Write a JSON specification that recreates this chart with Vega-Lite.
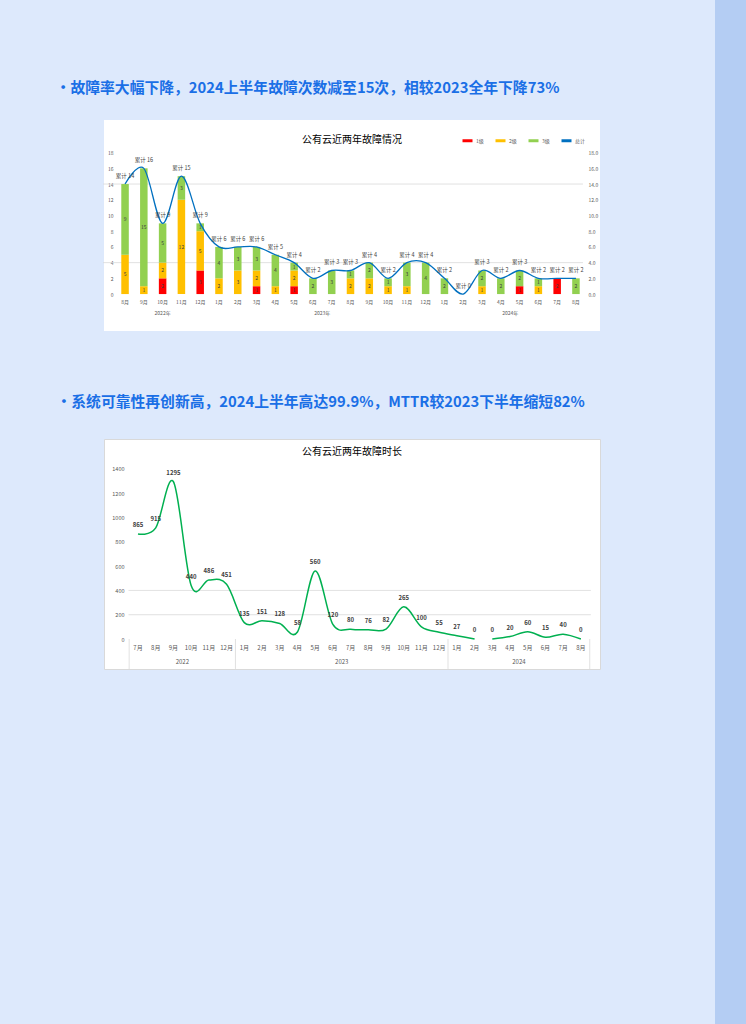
{
"$schema": "https://vega.github.io/schema/vega-lite/v6.json",
"background": "#dde9fc",
"padding": {"left": 55, "top": 0, "right": 0, "bottom": 0},
"config": {
  "font": "Noto Sans CJK SC",
  "view": {"stroke": null},
  "axis": {"domain": false, "ticks": false, "grid": false, "title": null, "labelColor": "#595959", "labelFont": "Noto Sans CJK SC"},
  "text": {"font": "Noto Sans CJK SC"},
  "legend": {"labelFont": "Noto Sans CJK SC"}
},
"datasets": {
  "faults": [
    {"m":"2022|8月","level":"2级","v":5},{"m":"2022|8月","level":"3级","v":9},
    {"m":"2022|9月","level":"2级","v":1},{"m":"2022|9月","level":"3级","v":15},
    {"m":"2022|10月","level":"1级","v":2},{"m":"2022|10月","level":"2级","v":2},{"m":"2022|10月","level":"3级","v":5},
    {"m":"2022|11月","level":"2级","v":12},{"m":"2022|11月","level":"3级","v":3},
    {"m":"2022|12月","level":"1级","v":3},{"m":"2022|12月","level":"2级","v":5},{"m":"2022|12月","level":"3级","v":1},
    {"m":"2023|1月","level":"2级","v":2},{"m":"2023|1月","level":"3级","v":4},
    {"m":"2023|2月","level":"2级","v":3},{"m":"2023|2月","level":"3级","v":3},
    {"m":"2023|3月","level":"1级","v":1},{"m":"2023|3月","level":"2级","v":2},{"m":"2023|3月","level":"3级","v":3},
    {"m":"2023|4月","level":"2级","v":1},{"m":"2023|4月","level":"3级","v":4},
    {"m":"2023|5月","level":"1级","v":1},{"m":"2023|5月","level":"2级","v":2},{"m":"2023|5月","level":"3级","v":1},
    {"m":"2023|6月","level":"3级","v":2},
    {"m":"2023|7月","level":"3级","v":3},
    {"m":"2023|8月","level":"2级","v":2},{"m":"2023|8月","level":"3级","v":1},
    {"m":"2023|9月","level":"2级","v":2},{"m":"2023|9月","level":"3级","v":2},
    {"m":"2023|10月","level":"2级","v":1},{"m":"2023|10月","level":"3级","v":1},
    {"m":"2023|11月","level":"2级","v":1},{"m":"2023|11月","level":"3级","v":3},
    {"m":"2023|12月","level":"3级","v":4},
    {"m":"2024|1月","level":"3级","v":2},
    {"m":"2024|3月","level":"2级","v":1},{"m":"2024|3月","level":"3级","v":2},
    {"m":"2024|4月","level":"3级","v":2},
    {"m":"2024|5月","level":"1级","v":1},{"m":"2024|5月","level":"3级","v":2},
    {"m":"2024|6月","level":"2级","v":1},{"m":"2024|6月","level":"3级","v":1},
    {"m":"2024|7月","level":"1级","v":2},
    {"m":"2024|8月","level":"3级","v":2}
  ],
  "totals": [
    {"m":"2022|8月","total":14,"label":"累计 14"},
    {"m":"2022|9月","total":16,"label":"累计 16"},
    {"m":"2022|10月","total":9,"label":"累计 9"},
    {"m":"2022|11月","total":15,"label":"累计 15"},
    {"m":"2022|12月","total":9,"label":"累计 9"},
    {"m":"2023|1月","total":6,"label":"累计 6"},
    {"m":"2023|2月","total":6,"label":"累计 6"},
    {"m":"2023|3月","total":6,"label":"累计 6"},
    {"m":"2023|4月","total":5,"label":"累计 5"},
    {"m":"2023|5月","total":4,"label":"累计 4"},
    {"m":"2023|6月","total":2,"label":"累计 2"},
    {"m":"2023|7月","total":3,"label":"累计 3"},
    {"m":"2023|8月","total":3,"label":"累计 3"},
    {"m":"2023|9月","total":4,"label":"累计 4"},
    {"m":"2023|10月","total":2,"label":"累计 2"},
    {"m":"2023|11月","total":4,"label":"累计 4"},
    {"m":"2023|12月","total":4,"label":"累计 4"},
    {"m":"2024|1月","total":2,"label":"累计 2"},
    {"m":"2024|2月","total":0,"label":"累计 0"},
    {"m":"2024|3月","total":3,"label":"累计 3"},
    {"m":"2024|4月","total":2,"label":"累计 2"},
    {"m":"2024|5月","total":3,"label":"累计 3"},
    {"m":"2024|6月","total":2,"label":"累计 2"},
    {"m":"2024|7月","total":2,"label":"累计 2"},
    {"m":"2024|8月","total":2,"label":"累计 2"}
  ],
  "years1a": [{"m":"2022|10月","t":"2022年"}],
  "years1b": [{"m":"2023|6月","t":"2023年"},{"m":"2024|4月","t":"2024年"}],
  "dur": [
    {"m":"2022|7月","v":865,"seg":"a"},{"m":"2022|8月","v":915,"seg":"a"},{"m":"2022|9月","v":1295,"seg":"a"},
    {"m":"2022|10月","v":440,"seg":"a"},{"m":"2022|11月","v":486,"seg":"a"},{"m":"2022|12月","v":451,"seg":"a"},
    {"m":"2023|1月","v":135,"seg":"a"},{"m":"2023|2月","v":151,"seg":"a"},{"m":"2023|3月","v":128,"seg":"a"},
    {"m":"2023|4月","v":58,"seg":"a"},{"m":"2023|5月","v":560,"seg":"a"},{"m":"2023|6月","v":120,"seg":"a"},
    {"m":"2023|7月","v":80,"seg":"a"},{"m":"2023|8月","v":76,"seg":"a"},{"m":"2023|9月","v":82,"seg":"a"},
    {"m":"2023|10月","v":265,"seg":"a"},{"m":"2023|11月","v":100,"seg":"a"},{"m":"2023|12月","v":55,"seg":"a"},
    {"m":"2024|1月","v":27,"seg":"a"},{"m":"2024|2月","v":0,"seg":"a"},{"m":"2024|3月","v":0,"seg":"b"},
    {"m":"2024|4月","v":20,"seg":"b"},{"m":"2024|5月","v":60,"seg":"b"},{"m":"2024|6月","v":15,"seg":"b"},
    {"m":"2024|7月","v":40,"seg":"b"},{"m":"2024|8月","v":0,"seg":"b"}
  ],
  "sepsR": [{"m":"2022|12月"},{"m":"2023|12月"},{"m":"2024|8月"}],
  "years2": [{"m":"2022|9月","t":"2022"},{"m":"2023|6月","t":"2023"},{"m":"2024|4月","t":"2024"}]
},
"spacing": 114,
"resolve": {"legend": {"color": "independent"}, "scale": {"color": "independent"}},
"hconcat": [
 {
  "spacing": 63,
  "resolve": {"legend": {"color": "independent"}, "scale": {"color": "independent"}},
  "vconcat": [
   {"width": 496, "height": 18, "data": {"values": []}, "mark": "point", "view": {"stroke": null}},
   {
    "title": {"text": "•故障率大幅下降，2024上半年故障次数减至15次，相较2023全年下降73%", "anchor": "start", "dx": -47, "offset": 24, "fontSize": 14.8, "fontWeight": "bold", "color": "#1a6fe6", "font": "Noto Sans CJK SC"},
    "resolve": {"legend": {"color": "independent"}, "scale": {"color": "independent"}},
    "vconcat": [
     {
      "width": 496, "height": 211,
      "view": {"fill": "#ffffff", "stroke": null},
      "title": {"text": "公有云近两年故障情况", "anchor": "middle", "frame": "group", "offset": -25, "fontSize": 10, "fontWeight": "normal", "color": "#000000", "font": "Noto Sans CJK SC"},
      "encoding": {
        "x": {"field": "m", "type": "ordinal",
              "scale": {"domain": ["2022|8月","2022|9月","2022|10月","2022|11月","2022|12月","2023|1月","2023|2月","2023|3月","2023|4月","2023|5月","2023|6月","2023|7月","2023|8月","2023|9月","2023|10月","2023|11月","2023|12月","2024|1月","2024|2月","2024|3月","2024|4月","2024|5月","2024|6月","2024|7月","2024|8月"],
                        "paddingInner": 0.6, "paddingOuter": 1, "align": 0.46},
              "axis": {"orient": "bottom", "offset": -37, "labelExpr": "split(datum.value, '|')[1]", "labelFontSize": 5, "labelPadding": 5, "labelAngle": 0}}
      },
      "resolve": {"axis": {"y": "independent"}},
      "layer": [
        {"data": {"values": [{"g": 4}, {"g": 14}]},
         "mark": {"type": "rule", "color": "#d9d9d9", "strokeWidth": 0.8, "xOffset": -22, "x2Offset": 7},
         "encoding": {"x": {"datum": "2022|8月", "type": "ordinal"}, "x2": {"datum": "2024|8月"},
                      "y": {"field": "g", "type": "quantitative", "scale": {"domain": [-4.7, 22.15], "nice": false, "zero": false}, "axis": null}}},
        {"data": {"name": "faults"},
         "transform": [{"stack": "v", "groupby": ["m"], "sort": [{"field": "level", "order": "ascending"}], "as": ["v0", "v1"]}],
         "mark": {"type": "bar"},
         "encoding": {
           "y": {"field": "v0", "type": "quantitative", "scale": {"domain": [-4.7, 22.15], "nice": false, "zero": false},
                 "axis": {"values": [0,2,4,6,8,10,12,14,16,18], "offset": -13, "labelFontSize": 5, "labelPadding": 4}},
           "y2": {"field": "v1"},
           "color": {"field": "level", "type": "nominal",
                     "scale": {"domain": ["1级","2级","3级","总计"], "range": ["#ff0000","#ffc000","#92d050","#0070c0"]},
                     "legend": {"title": null, "orient": "top-right", "direction": "horizontal", "offset": 14, "padding": 0,
                                "symbolType": "stroke", "symbolStrokeWidth": 3, "symbolSize": 100, "labelFontSize": 5,
                                "labelColor": "#595959", "labelOffset": 2, "columnPadding": 5}}
         }},
        {"data": {"name": "faults"},
         "transform": [{"stack": "v", "groupby": ["m"], "sort": [{"field": "level", "order": "ascending"}], "as": ["v0", "v1"]},
                       {"calculate": "(datum.v0 + datum.v1) / 2", "as": "mid"}],
         "mark": {"type": "text", "fontSize": 5, "color": "#404040"},
         "encoding": {
           "y": {"field": "mid", "type": "quantitative", "scale": {"domain": [-4.7, 22.15], "nice": false, "zero": false}, "axis": null},
           "text": {"field": "v", "type": "quantitative"}
         }},
        {"data": {"name": "totals"},
         "mark": {"type": "line", "interpolate": "cardinal", "strokeWidth": 1.3},
         "encoding": {
           "y": {"field": "total", "type": "quantitative", "scale": {"domain": [-4.7, 22.15], "nice": false, "zero": false},
                 "axis": {"orient": "right", "values": [0,2,4,6,8,10,12,14,16,18], "format": ".1f", "offset": -15, "labelFontSize": 5, "labelPadding": 3}},
           "color": {"datum": "总计", "type": "nominal"}
         }},
        {"data": {"name": "totals"},
         "mark": {"type": "text", "fontSize": 5.5, "color": "#404040", "baseline": "bottom", "dy": -5},
         "encoding": {
           "y": {"field": "total", "type": "quantitative", "scale": {"domain": [-4.7, 22.15], "nice": false, "zero": false}, "axis": null},
           "text": {"field": "label", "type": "nominal"}
         }},
        {"data": {"name": "years1a"},
         "mark": {"type": "text", "fontSize": 5, "color": "#595959"},
         "encoding": {"y": {"datum": -2.4, "type": "quantitative", "axis": null}, "text": {"field": "t", "type": "nominal"}}},
        {"data": {"name": "years1b"},
         "mark": {"type": "text", "fontSize": 5, "color": "#595959", "xOffset": 9.4},
         "encoding": {"y": {"datum": -2.4, "type": "quantitative", "axis": null}, "text": {"field": "t", "type": "nominal"}}}
      ]
     }
    ]
   },
   {
    "title": {"text": "•系统可靠性再创新高，2024上半年高达99.9%，MTTR较2023下半年缩短82%", "anchor": "start", "dx": -47, "offset": 29, "fontSize": 14.8, "fontWeight": "bold", "color": "#1a6fe6", "font": "Noto Sans CJK SC"},
    "vconcat": [
     {
      "width": 496, "height": 230,
      "view": {"fill": "#ffffff", "stroke": "#d9d9d9"},
      "title": {"text": "公有云近两年故障时长", "anchor": "middle", "frame": "group", "offset": -18, "fontSize": 10, "fontWeight": "normal", "color": "#000000", "font": "Noto Sans CJK SC"},
      "encoding": {
        "x": {"field": "m", "type": "ordinal",
              "scale": {"type": "band", "domain": ["2022|7月","2022|8月","2022|9月","2022|10月","2022|11月","2022|12月","2023|1月","2023|2月","2023|3月","2023|4月","2023|5月","2023|6月","2023|7月","2023|8月","2023|9月","2023|10月","2023|11月","2023|12月","2024|1月","2024|2月","2024|3月","2024|4月","2024|5月","2024|6月","2024|7月","2024|8月"],
                        "paddingInner": 0, "paddingOuter": 1, "align": 0.71},
              "axis": {"orient": "bottom", "offset": -30, "labelExpr": "split(datum.value, '|')[1]", "labelFontSize": 6, "labelPadding": 5, "labelAngle": 0}}
      },
      "resolve": {"axis": {"y": "independent"}},
      "layer": [
        {"data": {"values": [{"g": 200}, {"g": 400}]},
         "mark": {"type": "rule", "color": "#d9d9d9", "strokeWidth": 0.8, "xOffset": -9.5, "x2Offset": 10},
         "encoding": {"x": {"datum": "2022|7月", "type": "ordinal"}, "x2": {"datum": "2024|8月"},
                      "y": {"field": "g", "type": "quantitative", "scale": {"domain": [-247, 1647], "nice": false, "zero": false}, "axis": null}}},
        {"data": {"values": [{"m": "2022|7月"}]},
         "mark": {"type": "rule", "color": "#d9d9d9", "strokeWidth": 0.8, "xOffset": -8.86},
         "encoding": {"y": {"datum": 0, "type": "quantitative", "axis": null}, "y2": {"datum": -247}}},
        {"data": {"name": "sepsR"},
         "mark": {"type": "rule", "color": "#d9d9d9", "strokeWidth": 0.8, "xOffset": 8.86},
         "encoding": {"y": {"datum": 0, "type": "quantitative", "axis": null}, "y2": {"datum": -247}}},
        {"data": {"name": "dur"},
         "mark": {"type": "line", "interpolate": "cardinal", "strokeWidth": 1.5, "color": "#00b050"},
         "encoding": {
           "y": {"field": "v", "type": "quantitative", "scale": {"domain": [-247, 1647], "nice": false, "zero": false},
                 "axis": {"values": [0,200,400,600,800,1000,1200,1400], "format": "d", "offset": -24, "labelFontSize": 5.5, "labelPadding": 4}},
           "detail": {"field": "seg", "type": "nominal"}
         }},
        {"data": {"name": "dur"},
         "mark": {"type": "text", "fontSize": 6, "fontWeight": "bold", "color": "#404040", "baseline": "bottom", "dy": -6},
         "encoding": {
           "y": {"field": "v", "type": "quantitative", "axis": null},
           "text": {"field": "v", "type": "quantitative"}
         }},
        {"data": {"name": "years2"},
         "mark": {"type": "text", "fontSize": 6, "color": "#595959", "xOffset": 8.86},
         "encoding": {"y": {"datum": -190, "type": "quantitative", "axis": null}, "text": {"field": "t", "type": "nominal"}}}
      ]
     }
    ]
   }
  ]
 },
 {"width": 31, "height": 1024, "data": {"values": [{"a": 1}]}, "mark": {"type": "rect", "color": "#b4cdf3"}, "encoding": {}, "view": {"stroke": null}}
]
}
